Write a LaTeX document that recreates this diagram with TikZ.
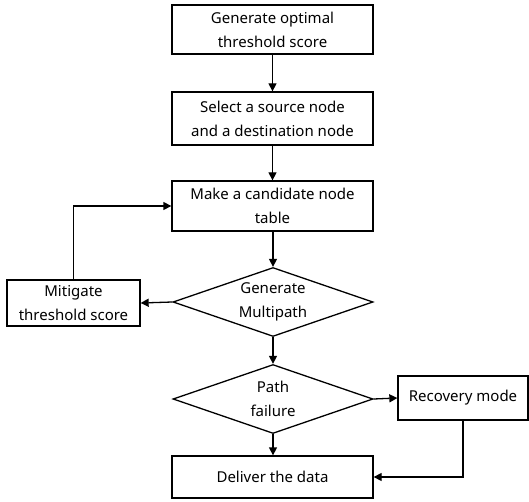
\documentclass[tikz,border=0pt]{standalone}
\usepackage{fontspec}
\setmainfont{Noto Sans}
\usepackage{tikz}
\usetikzlibrary{
  positioning,
  arrows.meta,
  shapes.geometric
}

\begin{document}
\begin{tikzpicture}[
    x=1pt, y=-1pt,
    >={Triangle[length=8pt,width=8pt]},
    every node/.style={font=\fontsize{15}{24}\selectfont},
    proc/.style={draw, line width=1.3pt, minimum width=201pt, align=center, inner sep=0pt},
    dec/.style={draw, line width=1.3pt, diamond, aspect=2.9, minimum width=200pt, minimum height=69pt, align=center, inner sep=-2pt},
    flow/.style={->, line width=1.3pt}
]
\useasboundingbox (0,0) rectangle (529,502);

% ========== 主流程 ==========
\node[proc, minimum height=49pt] (gen) at (272.5,29.5) {Generate optimal\\threshold score};
\node[proc, minimum height=53pt] (sel) at (272.5,118.5) {Select a source node\\and a destination node};
\node[proc, minimum height=50pt] (cand) at (272.5,206) {Make a candidate node\\table};
\node[dec] (multi) at (273,302) {Generate\\Multipath};
\node[dec] (fail) at (273,399) {Path\\failure};
\node[proc, minimum height=42pt] (deliver) at (272.5,477) {Deliver the data};

% ========== 侧边节点 ==========
\node[proc, minimum width=133pt, minimum height=46pt] (mit) at (73.5,303) {Mitigate\\threshold score};
\node[proc, minimum width=130pt, minimum height=44pt] (rec) at (463,398) {Recovery mode};

% ========== 连线 ==========
\draw[flow] (gen) -- (sel);
\draw[flow] (sel) -- (cand);
\draw[flow] (cand.south -| multi.north) -- (multi.north);
\draw[flow] (multi.west) -- (mit.east);
\draw[flow] (mit.north) |- (cand.west);
\draw[flow] (multi.south) -- (fail.north);
\draw[flow] (fail.east) -- (rec.west);
\draw[flow] (fail.south) -- (deliver.north -| fail.south);
\draw[flow] (rec.south) |- (deliver.east);

\end{tikzpicture}
\end{document}
